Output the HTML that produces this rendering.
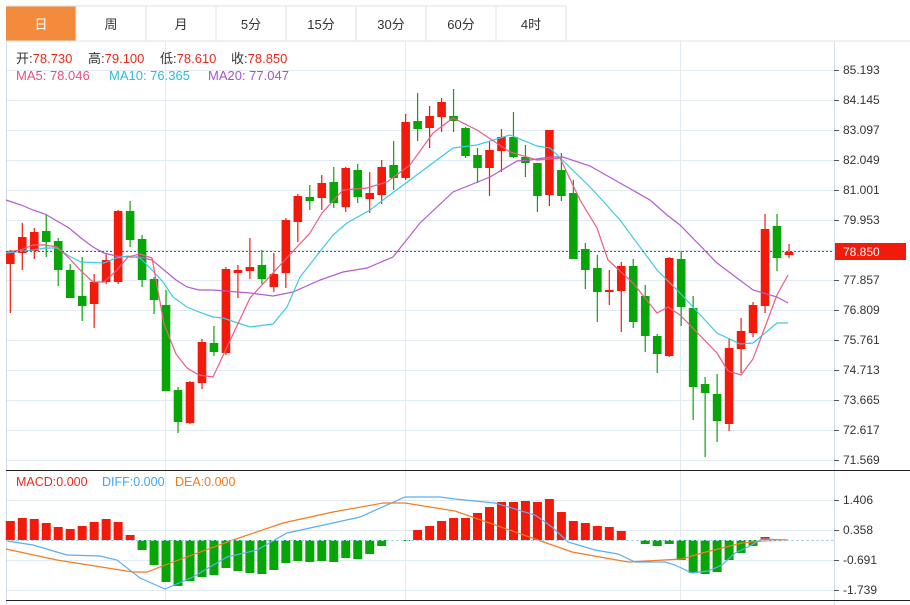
<!DOCTYPE html>
<html><head><meta charset="utf-8"><style>
body{margin:0;background:#fff;width:910px;height:605px;overflow:hidden;font-family:"Liberation Sans","Noto Sans CJK SC",sans-serif}
svg{position:absolute;left:0;top:0}
</style></head><body>
<svg id="s" width="910" height="605" xmlns="http://www.w3.org/2000/svg" font-family="Liberation Sans, Noto Sans CJK SC, sans-serif">
<rect x="6" y="6" width="70" height="35" fill="#f28c3c"/>
<g stroke="#dde3ea" fill="none">
<line x1="6" y1="6" x2="566" y2="6"/><line x1="6" y1="41" x2="910" y2="41"/>
<line x1="76" y1="6" x2="76" y2="41"/><line x1="146" y1="6" x2="146" y2="41"/><line x1="216" y1="6" x2="216" y2="41"/><line x1="286" y1="6" x2="286" y2="41"/><line x1="356" y1="6" x2="356" y2="41"/><line x1="426" y1="6" x2="426" y2="41"/><line x1="496" y1="6" x2="496" y2="41"/><line x1="566" y1="6" x2="566" y2="41"/>
</g>
<g font-size="13" text-anchor="middle" fill="#333">
<text x="41" y="29" fill="#fff">日</text><text x="111" y="29">周</text><text x="181" y="29">月</text><text x="251" y="29">5分</text><text x="321" y="29">15分</text><text x="391" y="29">30分</text><text x="461" y="29">60分</text><text x="531" y="29">4时</text>
</g>
<g id="grid" stroke="#e3ebf2" stroke-width="1"></g>
<g stroke="#d5dde6"><line x1="6.5" y1="41" x2="6.5" y2="605"/><line x1="834.5" y1="41" x2="834.5" y2="605"/></g>
<line x1="6" y1="470.5" x2="910" y2="470.5" stroke="#222"/>
<line x1="6" y1="600.5" x2="910" y2="600.5" stroke="#222"/>
<g id="c"></g>
<line x1="6" y1="251.5" x2="834" y2="251.5" stroke="#e52020" stroke-dasharray="2,2"/>
<line x1="6" y1="540.5" x2="834" y2="540.5" stroke="#a9d4ec" stroke-dasharray="3,2"/>
<rect x="835" y="243" width="71" height="17" fill="#f21a0b"/>
<text x="843" y="256" font-size="12" fill="#fff">78.850</text>
<g font-size="13">
<text x="16" y="63" fill="#333">开:<tspan fill="#e8291c">78.730</tspan></text>
<text x="88" y="63" fill="#333">高:<tspan fill="#e8291c">79.100</tspan></text>
<text x="160" y="63" fill="#333">低:<tspan fill="#e8291c">78.610</tspan></text>
<text x="231" y="63" fill="#333">收:<tspan fill="#e8291c">78.850</tspan></text>
<text x="16" y="80" fill="#e94f7c">MA5: 78.046</text>
<text x="109" y="80" fill="#2dbcd9">MA10: 76.365</text>
<text x="208" y="80" fill="#a553c9">MA20: 77.047</text>
<text x="16" y="486" fill="#e8291c" font-size="12.5">MACD:0.000</text>
<text x="102" y="486" fill="#42a5f5" font-size="12.5">DIFF:0.000</text>
<text x="175" y="486" fill="#f07a1c" font-size="12.5">DEA:0.000</text>
</g>
</svg>
<script>
const S="http://www.w3.org/2000/svg",g=document.getElementById('grid'),c=document.getElementById('c'),svg=document.getElementById('s');
function el(p,t,a){const e=document.createElementNS(S,t);for(const k in a)e.setAttribute(k,a[k]);p.appendChild(e);return e}
const labs=["85.193","84.145","83.097","82.049","81.001","79.953","","77.857","76.809","75.761","74.713","73.665","72.617","71.569"];
labs.forEach((l,i)=>{const y=70+i*30;el(g,'line',{x1:6,x2:834,y1:y+.5,y2:y+.5});if(l){el(svg,'line',{x1:834,x2:839,y1:y+.5,y2:y+.5,stroke:'#555'});const t=el(svg,'text',{x:843,y:y+4,'font-size':12,fill:'#333'});t.textContent=l;}});
["1.406","0.358","-0.691","-1.739"].forEach((l,i)=>{const y=500+i*30;el(g,'line',{x1:6,x2:834,y1:y+.5,y2:y+.5});el(svg,'line',{x1:834,x2:839,y1:y+.5,y2:y+.5,stroke:'#555'});const t=el(svg,'text',{x:843,y:y+4,'font-size':12,fill:'#333'});t.textContent=l;});
[165,405,680].forEach(x=>el(g,'line',{x1:x+.5,x2:x+.5,y1:41,y2:600}));
const D=[[1,251,264,250,313],[1,237,253,223,270],[1,232,251,228,259],[0,231,242,214,257],[0,241,270,238,286],[0,270,298,264,298],[0,296,306,257,321],[1,282,304,274,328],[1,260,282,253,284],[1,211,282,210,284],[0,211,240,201,247],[0,239,280,235,287],[0,279,300,277,314],[0,305,391,290,391],[0,390,422,387,433],[1,382,423,381,424],[1,342,383,339,389],[0,343,352,326,356],[1,269,353,267,355],[1,270,273,265,298],[1,267,271,238,279],[0,265,279,250,284],[1,274,287,253,292],[1,220,273,218,288],[1,196,222,194,242],[0,197,201,185,210],[1,183,198,175,210],[0,182,203,167,208],[1,168,207,167,212],[0,170,197,164,203],[1,193,199,172,213],[1,167,195,160,204],[0,165,178,141,190],[1,122,178,114,180],[0,121,129,93,141],[1,116,128,106,148],[1,102,117,98,132],[0,116,121,89,132],[0,128,156,127,158],[0,155,168,148,183],[1,150,168,142,196],[1,137,151,129,172],[0,137,157,112,158],[0,157,163,145,177],[0,163,196,163,212],[1,130,195,130,206],[0,170,196,153,201],[0,193,259,180,259],[0,249,270,243,289],[0,268,292,255,322],[1,290,292,270,305],[1,266,291,262,332],[0,266,322,259,328],[0,296,336,285,352],[0,336,354,334,373],[1,258,356,257,357],[0,259,307,251,326],[0,308,387,296,420],[0,384,393,377,457],[0,394,421,374,442],[1,348,424,338,431],[1,331,349,318,373],[1,305,333,302,337],[1,229,306,214,313],[0,226,258,214,271],[1,252,255,244,258]];
const H=[521,518,519,523,527,529,526,522,519,522,535,550,565,582,586,581,577,575,568,571,573,574,570,563,561,562,561,562,558,559,554,546,540,541,530,526,521,518,518,513,507,502,502,501,502,499,512,521,523,526,527,531,540,544,546,544,560,573,574,572,560,553,546,537,540,540];
const X=i=>10.3+11.98*i;
H.forEach((v,i)=>{if(Math.abs(v-540)<1)return;const up=v<540;el(c,'rect',{x:X(i)-4.5,y:Math.min(v,540),width:9,height:Math.abs(v-540),fill:up?'#f21a0b':'#07a507'})});
D.forEach((d,i)=>{const col=d[0]?'#f21a0b':'#07a507',x=X(i);el(c,'line',{x1:x,x2:x,y1:d[3],y2:d[4],stroke:col,'stroke-width':1.2});el(c,'rect',{x:x-4.3,y:d[1],width:8.6,height:Math.max(1.5,d[2]-d[1]),fill:col})});
function pl(pts,col){el(c,'polyline',{points:pts,fill:'none',stroke:col,'stroke-width':1.2})}
pl("6,200 21,205 33,210 45,214 69,228 81,238 93,247 104,253 116,256 128,257 140,257 152,260 164,270 176,280 187,287 199,290 213,290 250,293 273,296 293,292 320,280 343,272 367,268 393,257 420,223 453,192 490,177 517,161 530,160 550,157 563,157 590,166 650,200 667,215 680,225 717,263 753,290 777,297 788,303","#b25cd0");
pl("6,253 33,250 45,248 57,248 69,256 81,262 104,263 116,258 128,256 140,258 152,270 163,282 173,297 187,307 199,312 213,317 223,318 250,327 273,324 287,307 300,277 333,235 347,223 370,210 387,197 410,180 453,148 477,145 510,135 537,146 550,148 590,187 602,200 620,220 657,270 680,293 717,333 740,344 753,343 777,323 788,323","#3ccbe0");
pl("6,252 21,250 33,245 45,245 57,247 69,258 81,271 93,282 104,282 116,271 128,257 140,254 152,258 164,324 176,354 187,368 199,375 213,377 250,298 283,262 310,233 322,213 343,190 367,188 387,182 410,165 433,133 453,118 477,130 510,152 537,160 560,158 580,200 597,228 608,260 633,283 657,313 668,307 680,315 717,353 728,371 741,375 753,359 777,295 788,275","#ef5a86");
pl("7,541 33,545 67,555 100,556 117,560 140,578 165,589 193,577 227,557 257,550 287,533 333,523 360,517 405,497 440,497 455,499 495,503 535,515 552,527 568,542 595,550 618,554 635,562 665,562 675,565 692,573 708,571 722,565 735,553 748,547 762,539 788,540","#5aaef5");
pl("6,549 57,560 133,572 147,572 173,562 233,540 283,523 333,512 383,503 405,503 455,511 538,540 572,552 628,562 682,559 702,553 742,543 762,541 788,540","#f37b22");
</script>
</body></html>
